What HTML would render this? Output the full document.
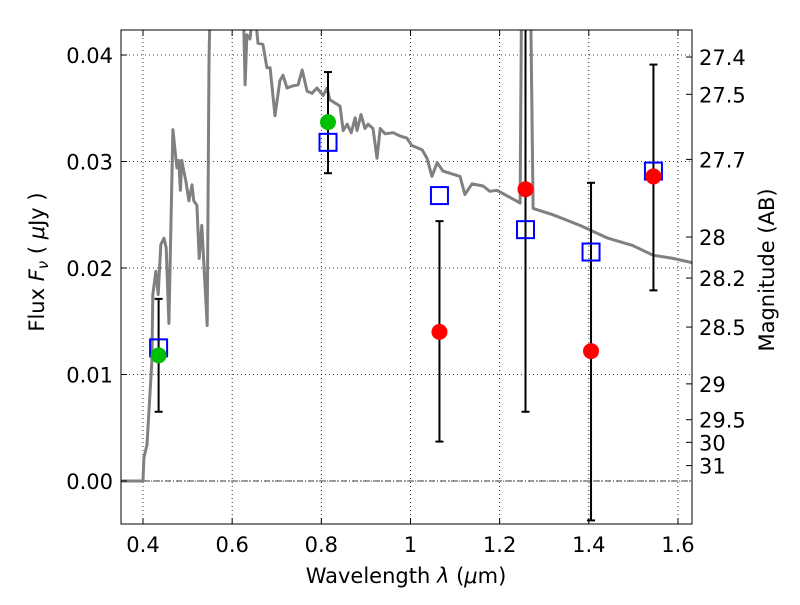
<!DOCTYPE html>
<html><head><meta charset="utf-8"><style>
body{margin:0;background:#fff;}
svg text{font-family:"DejaVu Sans","Liberation Sans",sans-serif;}
</style></head><body>
<svg id="c" width="800" height="600" xmlns="http://www.w3.org/2000/svg"></svg>
<script>
const specWl=[0.35,0.40,0.402,0.409,0.420,0.422,0.429,0.434,0.440,0.447,0.452,0.458,0.467,0.476,0.480,0.484,0.487,0.492,0.496,0.503,0.510,0.514,0.521,0.526,0.532,0.544,0.548,0.553,0.622,0.629,0.633,0.640,0.649,0.658,0.669,0.678,0.685,0.696,0.707,0.714,0.723,0.736,0.748,0.757,0.768,0.779,0.790,0.804,0.813,0.819,0.842,0.849,0.858,0.867,0.876,0.880,0.889,0.898,0.905,0.916,0.925,0.932,0.943,0.961,0.976,0.992,1.003,1.026,1.037,1.048,1.060,1.073,1.111,1.122,1.138,1.163,1.178,1.194,1.246,1.250,1.268,1.275,1.320,1.380,1.443,1.499,1.544,1.589,1.632];
const specFlux=[0,0,0.0022,0.0034,0.0113,0.0175,0.0197,0.0175,0.0222,0.0228,0.0219,0.0148,0.0330,0.0294,0.0301,0.0273,0.0301,0.0290,0.0282,0.0263,0.0278,0.0263,0.0259,0.0209,0.0240,0.0146,0.0394,0.050,0.050,0.0372,0.0419,0.0415,0.045,0.0411,0.0410,0.0388,0.0388,0.0343,0.0376,0.0381,0.0369,0.0371,0.0372,0.0386,0.0366,0.0364,0.0369,0.0362,0.0369,0.0358,0.0352,0.0329,0.0335,0.0327,0.0341,0.0329,0.0344,0.0331,0.0335,0.0331,0.0303,0.0331,0.0326,0.0327,0.0324,0.0322,0.0315,0.0311,0.0303,0.0286,0.0299,0.0291,0.0286,0.0269,0.0279,0.0277,0.0272,0.0273,0.0261,0.050,0.050,0.0256,0.0250,0.0240,0.0228,0.0221,0.0212,0.0209,0.0205];
const greenWl=[0.435,0.815];
const greenFlux=[0.0118,0.0337];
const greenLo=[0.0065,0.0289];
const greenHi=[0.0171,0.0384];
const redWl=[1.065,1.258,1.405,1.545];
const redFlux=[0.0140,0.0274,0.0122,0.0286];
const redLo=[0.0037,0.0065,-0.0037,0.0179];
const redHi=[0.0244,0.0460,0.0280,0.0391];
const modelWl=[0.435,0.815,1.065,1.258,1.405,1.545];
const modelFlux=[0.0125,0.0318,0.0268,0.0236,0.0215,0.0291];
const xTicks=[0.4,0.6,0.8,1.0,1.2,1.4,1.6];
const xTickLabels=["0.4","0.6","0.8","1","1.2","1.4","1.6"];
const yTicks=[0,0.01,0.02,0.03,0.04];
const yTickLabels=["0.00","0.01","0.02","0.03","0.04"];
const magTicks=[27.4,27.5,27.7,28,28.2,28.5,29,29.5,30,31];
const magLabels=["27.4","27.5","27.7","28","28.2","28.5","29","29.5","30","31"];

const L=121,R=692,T=30,B=524;
const X=v=>143+(v-0.4)*445.8;
const Y=v=>481-v*10650;
const magToFlux=m=>Math.pow(10,(23.9-m)/2.5);
const NS="http://www.w3.org/2000/svg";
const svg=document.getElementById('c');
function mk(tag,attrs,parent){const e=document.createElementNS(NS,tag);for(const k in attrs)e.setAttribute(k,attrs[k]);(parent||svg).appendChild(e);return e;}

const defs=mk('defs',{});
const cp=mk('clipPath',{id:'clip'},defs);mk('rect',{x:L,y:T,width:R-L,height:B-T},cp);

const grid=mk('g',{});


xTicks.forEach(v=>mk('line',{x1:X(v),x2:X(v),y1:T,y2:B,stroke:'#000','stroke-width':0.8,'stroke-dasharray':'1,3'},grid));
yTicks.forEach(v=>mk('line',{x1:L,x2:R,y1:Y(v),y2:Y(v),stroke:'#000','stroke-width':0.8,'stroke-dasharray':'1,3'},grid));
const z=mk('line',{x1:L,x2:R,y1:Y(0),y2:Y(0),stroke:'#000','stroke-width':0.8,'stroke-dasharray':'6,2,1,2'});



const g=mk('g',{'clip-path':'url(#clip)'});
let d=specWl.map((w,i)=>(i?'L':'M')+X(w).toFixed(1)+','+Y(specFlux[i]).toFixed(1)).join(' ');
const sp=mk('path',{d:d,fill:'none',stroke:'#808080','stroke-width':3,'stroke-linejoin':'round'},g);



function errbar(w,lo,hi,name){
  const eg=mk('g',{stroke:'#000','stroke-width':2},g);
  
  
  mk('line',{x1:X(w),x2:X(w),y1:Y(lo),y2:Y(hi)},eg);
  mk('line',{x1:X(w)-4,x2:X(w)+4,y1:Y(lo),y2:Y(lo)},eg);
  mk('line',{x1:X(w)-4,x2:X(w)+4,y1:Y(hi),y2:Y(hi)},eg);
}
greenWl.forEach((w,i)=>errbar(w,greenLo[i],greenHi[i],'green-error-bar'));
redWl.forEach((w,i)=>errbar(w,redLo[i],redHi[i],'red-error-bar'));
modelWl.forEach((w,i)=>{const r=mk('rect',{x:X(w)-8.5,y:Y(modelFlux[i])-8.5,width:17,height:17,fill:'none',stroke:'#0000ff','stroke-width':2},g);
  
  });
greenWl.forEach((w,i)=>{const c=mk('circle',{cx:X(w),cy:Y(greenFlux[i]),r:8,fill:'#00bf00'},g);
  
  });
redWl.forEach((w,i)=>{const c=mk('circle',{cx:X(w),cy:Y(redFlux[i]),r:8,fill:'#ff0000'},g);
  
  });

const fr=mk('rect',{x:L,y:T,width:R-L,height:B-T,fill:'none',stroke:'#000','stroke-width':1});



xTicks.forEach((v,i)=>{mk('line',{x1:X(v),x2:X(v),y1:B,y2:B-6,stroke:'#000'});mk('line',{x1:X(v),x2:X(v),y1:T,y2:T+6,stroke:'#000'});
  const t=mk('text',{x:X(v),y:B+28,'font-size':21,'text-anchor':'middle'});t.textContent=xTickLabels[i];
  
  });
yTicks.forEach((v,i)=>{mk('line',{x1:L,x2:L+6,y1:Y(v),y2:Y(v),stroke:'#000'});
  const t=mk('text',{x:L-8,y:Y(v)+8,'font-size':21,'text-anchor':'end'});t.textContent=yTickLabels[i];
  
  });
magTicks.forEach((m,i)=>{const y=Y(magToFlux(m));mk('line',{x1:R,x2:R-6,y1:y,y2:y,stroke:'#000'});
  const t=mk('text',{x:R+7,y:y+8,'font-size':21});t.textContent=magLabels[i];
  
  });

const xl=mk('text',{x:406,y:583,'font-size':21,'text-anchor':'middle'});
xl.innerHTML='Wavelength  <tspan font-style="italic">λ</tspan> (<tspan font-style="italic">μ</tspan>m)';


const yl=mk('text',{x:0,y:0,'font-size':21,'text-anchor':'middle',transform:'translate(44,262) rotate(-90)'});
yl.innerHTML='Flux  <tspan font-style="italic">F</tspan><tspan font-style="italic" font-size="15" dy="4">ν</tspan><tspan dy="-4">  (  </tspan><tspan font-style="italic">μ</tspan>Jy )';


const rl=mk('text',{x:0,y:0,'font-size':21,'text-anchor':'middle',transform:'translate(774,270) rotate(-90)'});
rl.textContent='Magnitude (AB)';


</script>
</body></html>
